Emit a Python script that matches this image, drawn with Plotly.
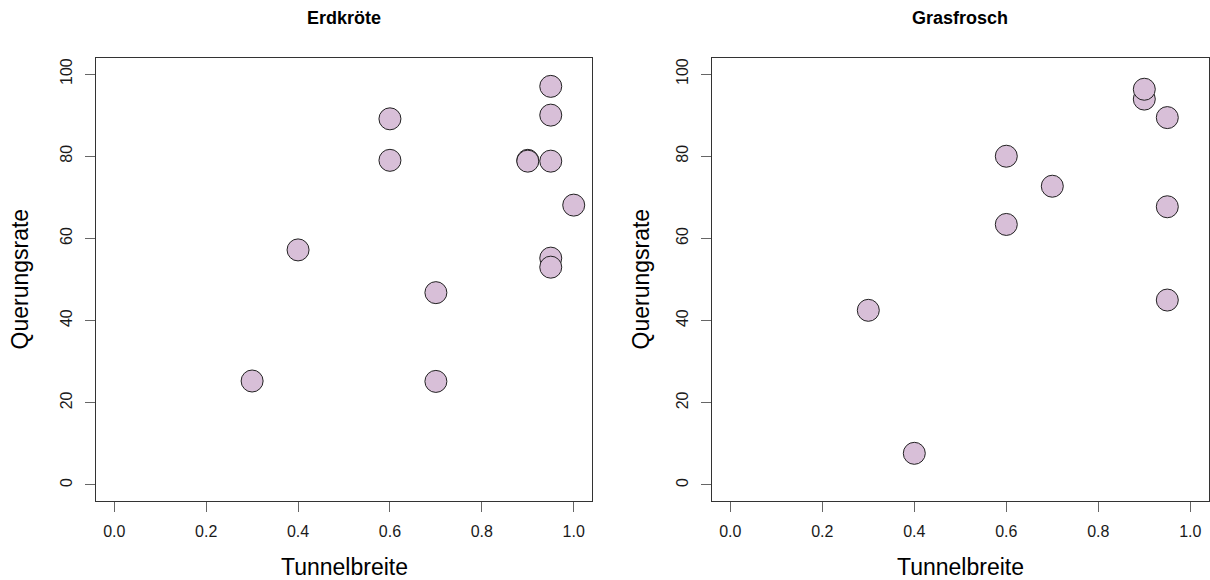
import plotly.graph_objects as go

# Data
erd_x = [0.3, 0.4, 0.6, 0.6, 0.7, 0.7, 0.9, 0.9, 0.95, 0.95, 0.95, 0.95, 0.95, 1.0]
erd_y = [25.3, 57.2, 89.1, 79.0, 46.8, 25.2, 79.0, 78.8, 97.0, 90.0, 78.8, 55.2, 53.0, 68.1]

gras_x = [0.3, 0.4, 0.6, 0.6, 0.7, 0.9, 0.9, 0.95, 0.95, 0.95]
gras_y = [42.5, 7.7, 80.0, 63.4, 72.7, 93.9, 96.3, 89.4, 67.7, 45.0]

panel_titles = ["Erdkröte", "Grasfrosch"]
x_title = "Tunnelbreite"
y_title = "Querungsrate"
x_ticks = [0.0, 0.2, 0.4, 0.6, 0.8, 1.0]
x_ticklabels = ["0.0", "0.2", "0.4", "0.6", "0.8", "1.0"]
y_ticks = [0, 20, 40, 60, 80, 100]
y_ticklabels = ["0", "20", "40", "60", "80", "100"]

FONT = "Arial, Liberation Sans, sans-serif"
W, H = 1210, 580

fig = go.Figure()
marker = dict(size=22, color="#D8BFD8", line=dict(color="#222222", width=1))
fig.add_trace(go.Scatter(x=erd_x, y=erd_y, mode="markers", marker=marker,
                         xaxis="x", yaxis="y", showlegend=False))
fig.add_trace(go.Scatter(x=gras_x, y=gras_y, mode="markers", marker=marker,
                         xaxis="x2", yaxis="y2", showlegend=False))

ydom = [1 - 501.4 / H, 1 - 57.6 / H]
xdoms = [[95.9 / W, 592.1 / W], [711.9 / W, 1208.7 / W]]

axis_common = dict(showgrid=False, zeroline=False, showline=True, mirror=True,
                   linecolor="#333333", linewidth=1, ticks="outside", ticklen=10,
                   tickcolor="#666666", tickwidth=1,
                   tickfont=dict(family=FONT, size=16, color="#1a1a1a"))

for i, suffix in enumerate(["", "2"]):
    fig.update_layout(**{
        "xaxis" + suffix: dict(axis_common, domain=xdoms[i], range=[-0.04, 1.04],
                               tickvals=x_ticks, ticktext=x_ticklabels,
                               anchor="y" + suffix, ticklabelstandoff=5),
        "yaxis" + suffix: dict(axis_common, domain=ydom, range=[-4, 104],
                               tickvals=y_ticks, ticktext=y_ticklabels,
                               tickangle=-90, anchor="x" + suffix,
                               ticklabelstandoff=7),
    })

annotations = []
for i in range(2):
    cx = (xdoms[i][0] + xdoms[i][1]) / 2
    annotations.append(dict(text="<b>" + panel_titles[i] + "</b>", x=cx, y=1 - 18 / H,
                            xref="paper", yref="paper", showarrow=False,
                            xanchor="center", yanchor="middle",
                            font=dict(family=FONT, size=18, color="#000000")))
    annotations.append(dict(text=x_title, x=cx, y=1 - 567 / H,
                            xref="paper", yref="paper", showarrow=False,
                            xanchor="center", yanchor="middle",
                            font=dict(family=FONT, size=23, color="#000000")))
    annotations.append(dict(text=y_title, x=(20 + (0 if i == 0 else 621)) / W,
                            y=(ydom[0] + ydom[1]) / 2,
                            xref="paper", yref="paper", showarrow=False, textangle=-90,
                            xanchor="center", yanchor="middle",
                            font=dict(family=FONT, size=23, color="#000000")))

fig.update_layout(width=W, height=H, margin=dict(l=0, r=0, t=0, b=0),
                  plot_bgcolor="white", paper_bgcolor="white",
                  annotations=annotations, font=dict(family=FONT))

fig.write_html("out.html", config={"displayModeBar": False},
               post_script="document.body.style.margin='0';"
                           "document.body.style.overflow='hidden';")
